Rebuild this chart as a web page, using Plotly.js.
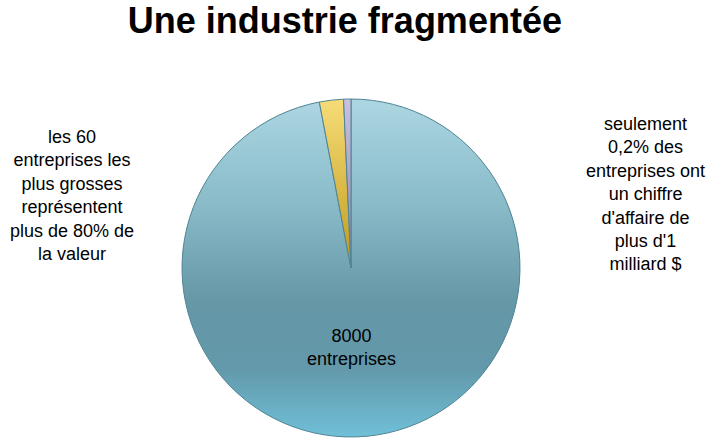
<!DOCTYPE html>
<html>
<head>
<meta charset="utf-8">
<script src="https://cdn.plot.ly/plotly-3.0.1.min.js"></script>
<style>html,body{margin:0;padding:0;background:#fff;}#chart{width:720px;height:447px;}</style>
</head>
<body>
<div id="chart"></div>
<script>
const sliceLabels = ["8000 entreprises", "60 plus grosses", "CA > 1 milliard $"];
const sliceValues = [97.0, 2.3, 0.7];
const sliceColors = ["#7fb0c0", "#e2c24a", "#a29ac2"];
const titleText = "Une industrie fragmentée";
const leftNote = "les 60<br>entreprises les<br>plus grosses<br>représentent<br>plus de 80% de<br>la valeur";
const rightNote = "seulement<br>0,2% des<br>entreprises ont<br>un chiffre<br>d'affaire de<br>plus d'1<br>milliard $";
const centerNote = "8000<br>entreprises";

const textFont = {family: "Liberation Sans, Arial, sans-serif", size: 18, color: "#000"};

const data = [{
  type: "pie",
  labels: sliceLabels,
  values: sliceValues,
  sort: false,
  direction: "clockwise",
  rotation: 0,
  textinfo: "none",
  hoverinfo: "label+percent",
  marker: {colors: sliceColors, line: {color: "#4f8494", width: 1}},
  domain: {x: [0.2528, 0.7222], y: [0.0224, 0.7785]},
  showlegend: false
}];

const layout = {
  width: 720, height: 447,
  margin: {l: 0, r: 0, t: 0, b: 0},
  paper_bgcolor: "#fff",
  title: {text: "<b>" + titleText + "</b>", x: 0.479, xanchor: "center", y: 0.954, yanchor: "middle",
          font: {family: "Liberation Sans, Arial, sans-serif", size: 36, color: "#000"}},
  annotations: [
    {text: leftNote, x: 0.1, y: 0.72, xref: "paper", yref: "paper", xanchor: "center", yanchor: "top",
     showarrow: false, align: "center", font: textFont},
    {text: rightNote, x: 0.896, y: 0.75, xref: "paper", yref: "paper", xanchor: "center", yanchor: "top",
     showarrow: false, align: "center", font: textFont},
    {text: centerNote, x: 0.488, y: 0.222, xref: "paper", yref: "paper", xanchor: "center", yanchor: "middle",
     showarrow: false, align: "center", font: textFont}
  ]
};

Plotly.newPlot("chart", data, layout, {displayModeBar: false, staticPlot: true}).then(function(gd){
  const svg = gd.querySelector("svg.main-svg");
  const ns = "http://www.w3.org/2000/svg";
  let defs = svg.querySelector("defs");
  if (!defs) { defs = document.createElementNS(ns, "defs"); svg.insertBefore(defs, svg.firstChild); }
  function addGrad(id, stops) {
    const g = document.createElementNS(ns, "linearGradient");
    g.setAttribute("id", id);
    g.setAttribute("x1", "0"); g.setAttribute("y1", "0");
    g.setAttribute("x2", "0"); g.setAttribute("y2", "1");
    stops.forEach(function(s){
      const st = document.createElementNS(ns, "stop");
      st.setAttribute("offset", s[0]);
      st.setAttribute("stop-color", s[1]);
      g.appendChild(st);
    });
    defs.appendChild(g);
  }
  addGrad("gBlue", [["0", "#acd6e2"], ["0.3", "#8abcca"], ["0.6", "#6597a6"], ["0.8", "#6399ab"], ["1", "#6fc0d8"]]);
  addGrad("gGold", [["0", "#f6dc78"], ["1", "#c09a1c"]]);
  addGrad("gPurp", [["0", "#c8c2e0"], ["1", "#8a82aa"]]);
  const paths = gd.querySelectorAll(".slice path.surface");
  const ids = ["gBlue", "gGold", "gPurp"];
  paths.forEach(function(p, i){ if (ids[i]) p.style.fill = "url(#" + ids[i] + ")"; });
});
</script>
</body>
</html>
